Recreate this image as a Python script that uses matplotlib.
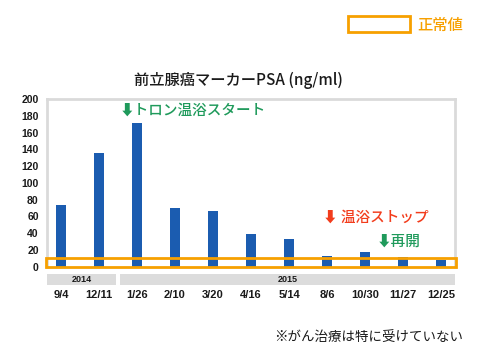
import matplotlib
matplotlib.use("Agg")
import matplotlib.pyplot as plt
import matplotlib.transforms as mtransforms
from matplotlib.patches import Rectangle

plt.rcParams['font.family'] = ['Noto Sans CJK JP', 'DejaVu Sans']

# data
dates = ["9/4", "12/11", "1/26", "2/10", "3/20", "4/16", "5/14",
         "8/6", "10/30", "11/27", "12/25"]
psa = [74, 136, 172, 70, 66, 39, 33, 13, 17, 12, 8]
years = ["2014", "2015"]
year_spans = [(-0.368, 1.45), (1.55, 10.368)]
normal_max = 10

blue = "#1b5cb0"
green = "#1f9a5b"
red = "#f23c1c"
orange = "#f7a000"
frame = "#dadada"
ink = "#1a1a1a"

W, H = 479, 360
fig = plt.figure(figsize=(W / 100, H / 100), dpi=100)
ax = fig.add_axes([47 / W, (H - 266.7) / H, 408 / W, 167.5 / H])

x = list(range(len(dates)))
ax.bar(x, psa, width=0.27, color=blue, zorder=2)
ax.set_xlim(-0.368, 10.368)
ax.set_ylim(0, 200)
ax.set_yticks(range(0, 201, 20))
ax.set_xticks(x)
ax.set_xticklabels(dates, family="Liberation Sans", fontsize=8,
                   color=ink, weight="bold")
ax.tick_params(axis="x", length=0, pad=17)
ax.tick_params(axis="y", length=0, pad=6, labelsize=7.5, labelcolor=ink)
for lab in ax.get_yticklabels():
    lab.set_family("Liberation Sans")
    lab.set_weight("bold")

for side in ["top", "left", "right"]:
    ax.spines[side].set_color(frame)
    ax.spines[side].set_linewidth(2)
ax.spines["bottom"].set_visible(False)

# normal range box
ax.add_patch(Rectangle((-0.4, 0), 10.8, normal_max, fill=False,
                       edgecolor=orange, linewidth=2, clip_on=False, zorder=3))

# year bands under the axis
trans = mtransforms.blended_transform_factory(ax.transData, ax.transAxes)
for yr, (a, b) in zip(years, year_spans):
    ax.add_patch(Rectangle((a, -0.112), b - a, 0.066, transform=trans,
                           facecolor="#dcdcdc", edgecolor="none", clip_on=False))
    ax.text((a + b) / 2, -0.079, yr, transform=trans, ha="center", va="center",
            family="Liberation Sans", fontsize=6.5, color=ink, weight="bold")

# annotations
ax.text(1.55, 186, "⬇トロン温浴スタート", color=green, fontsize=10.5,
        va="center", ha="left", weight="medium")
ax.text(6.9, 58, "⬇ 温浴ストップ", color=red, fontsize=10.5,
        va="center", ha="left", weight="medium")
ax.text(8.32, 29.5, "⬇再開", color=green, fontsize=10.5,
        va="center", ha="left", weight="medium")

# title, legend, note
fig.text(238 / W, 1 - 80 / H, "前立腺癌マーカーPSA (ng/ml)", ha="center",
         va="center", fontsize=11, color=ink, weight="medium")
fig.patches.append(Rectangle((348 / W, 1 - 32 / H), 62 / W, 16 / H,
                             transform=fig.transFigure, fill=False,
                             edgecolor=orange, linewidth=2))
fig.text(417 / W, 1 - 25 / H, "正常値", ha="left", va="center",
         fontsize=11, color=orange, weight="medium")
fig.text(463 / W, 1 - 337 / H, "※がん治療は特に受けていない", ha="right",
         va="center", fontsize=9.7, color=ink)

fig.savefig("out.png", dpi=100)
